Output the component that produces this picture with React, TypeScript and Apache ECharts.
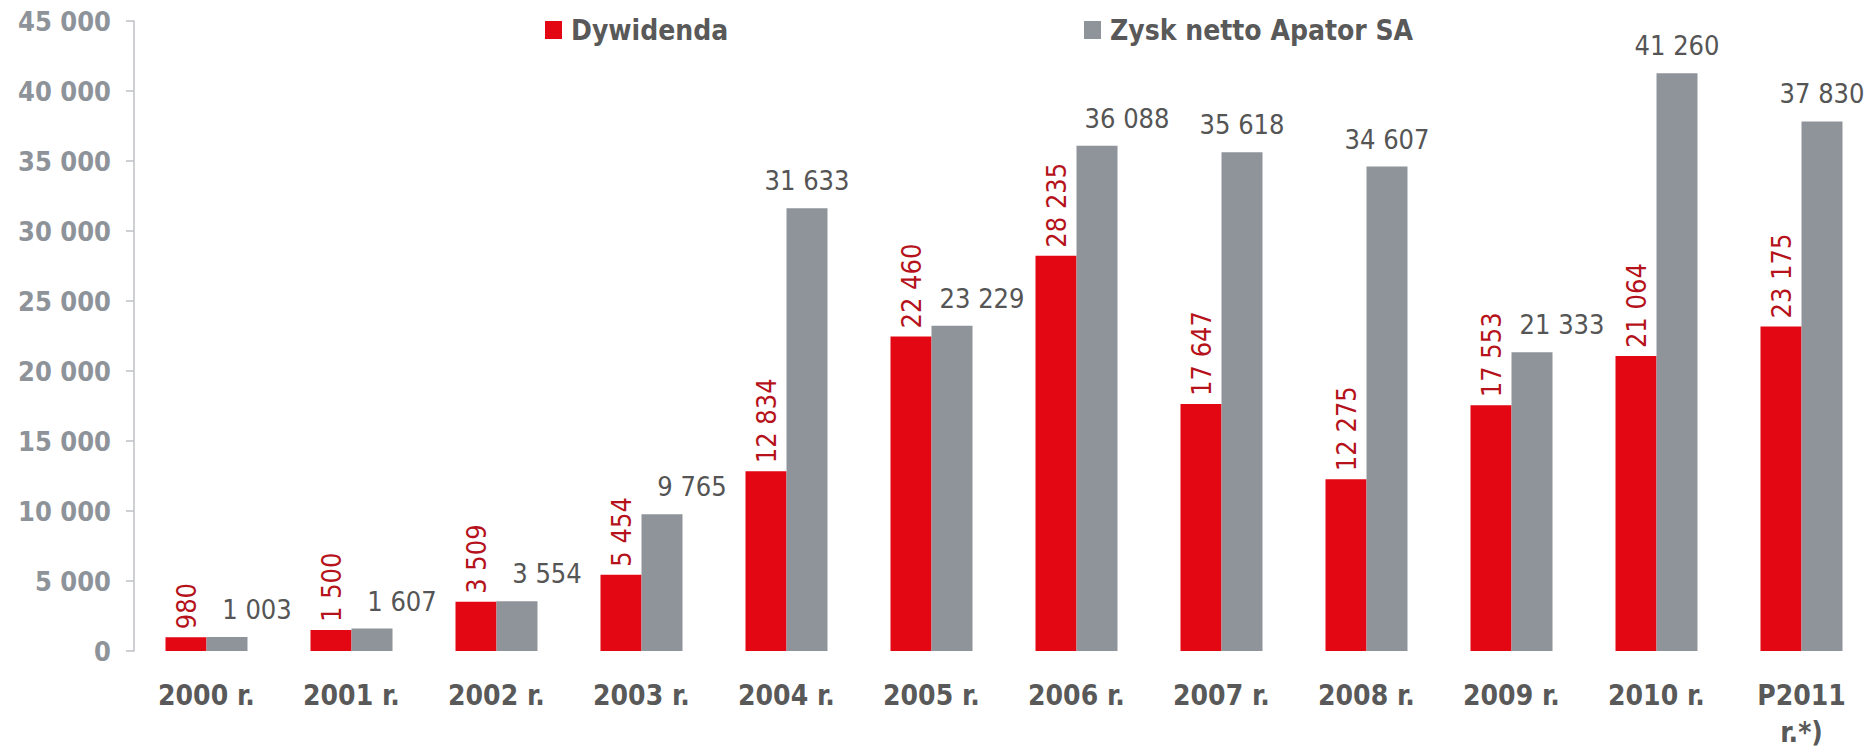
import React, { useEffect, useRef } from "react";
import * as echarts from "echarts";

const categories = [
  "2000 r.", "2001 r.", "2002 r.", "2003 r.", "2004 r.", "2005 r.",
  "2006 r.", "2007 r.", "2008 r.", "2009 r.", "2010 r.", "P2011\nr.*)",
];
const dywidenda = [980, 1500, 3509, 5454, 12834, 22460, 28235, 17647, 12275, 17553, 21064, 23175];
const zyskNetto = [1003, 1607, 3554, 9765, 31633, 23229, 36088, 35618, 34607, 21333, 41260, 37830];
const seriesNames = ["Dywidenda", "Zysk netto Apator SA"];

const RED = "#E30613";
const GRAY = "#8F939A";
const FONT = "'DejaVu Sans Condensed', 'DejaVu Sans', sans-serif";

const fmt = (v: number) => String(v).replace(/\B(?=(\d{3})+(?!\d))/g, " ");

export default function App() {
  const ref = useRef<HTMLDivElement>(null);
  useEffect(() => {
    if (!ref.current) return;
    const chart = echarts.init(ref.current, null, { renderer: "svg" });
    const legendText = {
      fontFamily: FONT,
      fontWeight: "bold" as const,
      fontSize: 28,
      color: "#595959",
      padding: [0, 0, 0, 4],
    };
    chart.setOption({
      animation: false,
      backgroundColor: "#FFFFFF",
      grid: {
        left: 134,
        right: 2,
        top: 21,
        bottom: 97,
        containLabel: false,
        outerBoundsMode: "none",
      },
      legend: [
        {
          data: [seriesNames[0]],
          left: 540,
          top: 11,
          icon: "rect",
          itemWidth: 17,
          itemHeight: 18,
          textStyle: legendText,
        },
        {
          data: [seriesNames[1]],
          left: 1079,
          top: 11,
          icon: "rect",
          itemWidth: 17,
          itemHeight: 18,
          textStyle: legendText,
        },
      ],
      xAxis: {
        type: "category",
        data: categories,
        axisLine: { show: false },
        axisTick: { show: false },
        axisLabel: {
          interval: 0,
          margin: 26,
          fontFamily: FONT,
          fontWeight: "bold",
          fontSize: 28,
          lineHeight: 37,
          color: "#595959",
        },
      },
      yAxis: {
        type: "value",
        min: 0,
        max: 45000,
        interval: 5000,
        splitLine: { show: false },
        axisLine: { show: true, lineStyle: { color: "#BFC1C4", width: 1.5 } },
        axisTick: { show: true, length: 8, lineStyle: { color: "#BFC1C4", width: 1.5 } },
        axisLabel: {
          margin: 23,
          fontFamily: FONT,
          fontWeight: "bold",
          fontSize: 27,
          color: "#8E939A",
          formatter: (v: number) => fmt(v),
        },
      },
      series: [
        {
          name: seriesNames[0],
          type: "bar",
          data: dywidenda,
          barWidth: 41,
          barGap: "0%",
          itemStyle: { color: RED },
          label: {
            show: true,
            position: "top",
            rotate: 90,
            align: "left",
            verticalAlign: "middle",
            distance: 8,
            fontFamily: FONT,
            fontSize: 27,
            color: "#B5121B",
            formatter: (p: any) => fmt(p.value),
          },
        },
        {
          name: seriesNames[1],
          type: "bar",
          barWidth: 41,
          barGap: "0%",
          itemStyle: { color: GRAY },
          data: zyskNetto.map((v, i) => {
            const crowded = v - dywidenda[i] < 8000;
            return crowded ? { value: v, label: { offset: [30, 0] } } : v;
          }),
          label: {
            show: true,
            position: "top",
            distance: 14,
            fontFamily: FONT,
            fontSize: 27,
            color: "#555555",
            formatter: (p: any) => fmt(p.value),
          },
        },
      ],
    });
    return () => chart.dispose();
  }, []);
  return (
    <div
      ref={ref}
      style={{ position: "fixed", left: 0, top: 0, width: 1876, height: 748 }}
    />
  );
}
